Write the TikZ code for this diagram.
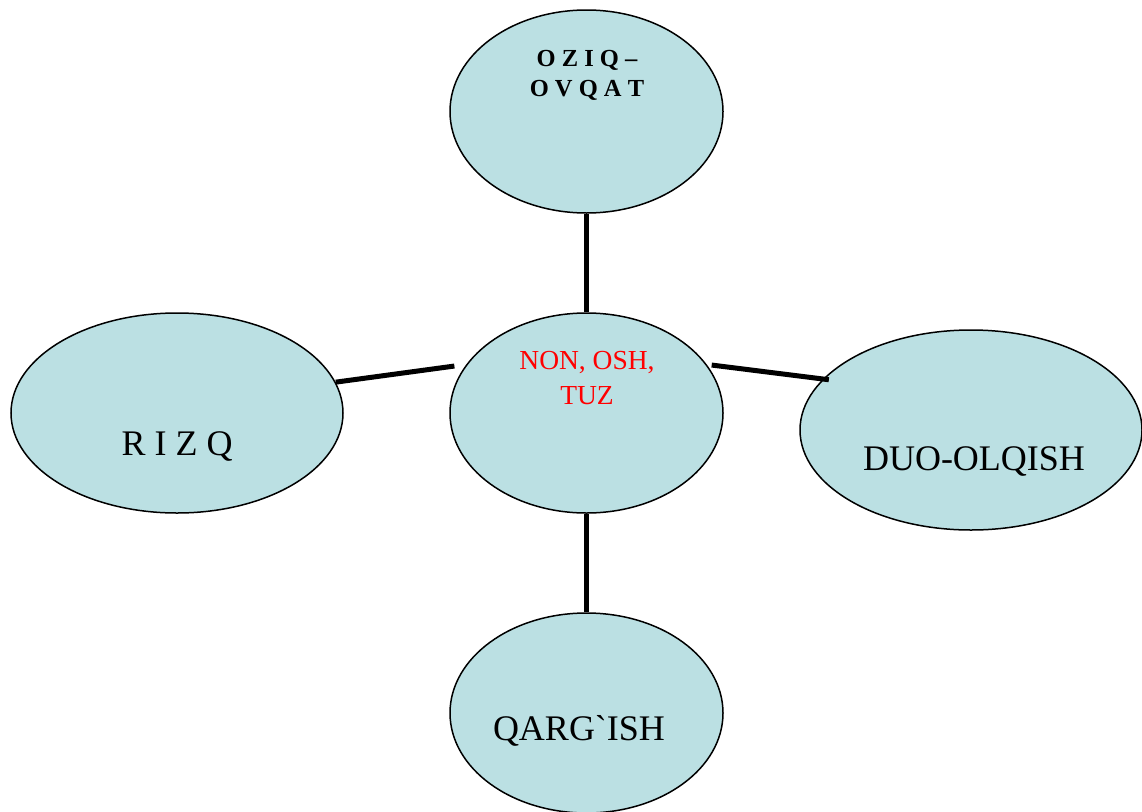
\documentclass[tikz,border=0pt]{standalone}
\usepackage{fontspec}
\setmainfont{Liberation Serif}[Ligatures=TeXOff]
\usetikzlibrary{shapes.geometric}
\definecolor{bubble}{RGB}{187,224,227}
\tikzset{
  bub/.style={ellipse, draw=black, line width=1.5pt, fill=bubble, inner sep=0pt},
  link/.style={line width=5pt, line cap=butt},
  big/.style={font=\fontsize{36}{43}\selectfont, anchor=base, inner sep=0pt},
}
\begin{document}
\begin{tikzpicture}[x=1pt,y=-1pt]
\useasboundingbox (0,0) rectangle (1142,811);
\node[bub, minimum width=273pt, minimum height=203pt] (top) at (586.5,111.5) {};
\node[bub, minimum width=273pt, minimum height=200pt] (mid) at (586.5,413) {};
\node[bub, minimum width=332pt, minimum height=200pt] (lft) at (177,413) {};
\node[bub, minimum width=342pt, minimum height=200pt] (rgt) at (971,430) {};
\node[bub, minimum width=273pt, minimum height=200pt] (bot) at (586.5,713) {};

\draw[link] (top) -- (mid);
\draw[link] (mid) -- (bot);
\draw[link, shorten >=12pt] (lft.11) -- (mid.158);
\draw[link, shorten <=5pt, shorten >=-6pt] (mid.22) -- (rgt.161.8);

\node[anchor=base, inner sep=0pt, align=center, font=\bfseries\fontsize{24.5}{30}\selectfont] (ttop) at (587,96) {O Z I Q –\\O V Q A T};
\node[anchor=base, inner sep=0pt, align=center, text=red, font=\fontsize{27.5}{35}\selectfont] (tmid) at (587,404) {NON, OSH,\\TUZ};
\node[big] (tlft) at (177,455) {R I Z Q};
\node[big] (trgt) at (974,470) {DUO-OLQISH};
\node[big] (tbot) at (579,740) {QARG`ISH};
\end{tikzpicture}
\end{document}
